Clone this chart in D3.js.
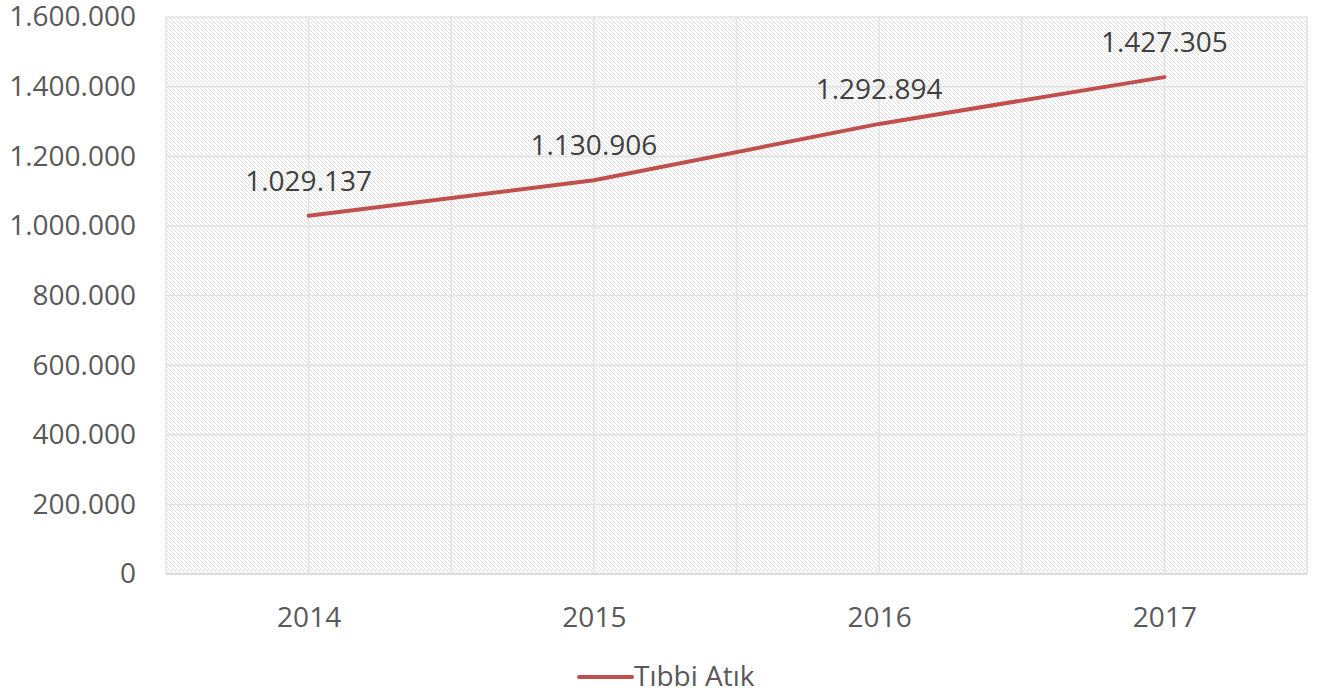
<!DOCTYPE html>
<html>
<head>
    <meta charset="utf-8">
    <title></title>
    <style>
        body { margin: 0; background: #fff; }
        text { font-family: "Open Sans", sans-serif; }
    </style>
</head>
<body>
    <script src="https://cdn.jsdelivr.net/npm/d3@7/dist/d3.min.js"></script>
    <script>
        var years = ["2014", "2015", "2016", "2017"];
        var values = [1029137, 1130906, 1292894, 1427305];
        var yTicks = [0, 200000, 400000, 600000, 800000, 1000000, 1200000, 1400000, 1600000];
        var seriesName = "Tıbbi Atık";

        var width = 1319,
            height = 693;
        var pLeft = 166, pRight = 1307, pTop = 17, pBottom = 574;
        var fontSize = "28px";

        var svg = d3.select("body").append("svg")
            .attr("width", width)
            .attr("height", height);

        // diagonal hatch fill
        var pat = svg.append("defs").append("pattern")
            .attr("id", "hatch")
            .attr("patternUnits", "userSpaceOnUse")
            .attr("width", 4)
            .attr("height", 4);
        pat.append("path")
            .attr("d", "M0,0L4,4M-1,3L1,5M3,-1L5,1")
            .attr("stroke", "#dcdcdc")
            .attr("stroke-width", 1);

        var x = d3.scalePoint().domain(years).range([pLeft, pRight]).padding(0.5);
        var band = (pRight - pLeft) / years.length;
        var y = d3.scaleLinear().domain([0, 1600000]).range([pBottom, pTop]);

        svg.append("rect")
            .attr("x", pLeft).attr("y", pTop)
            .attr("width", pRight - pLeft).attr("height", pBottom - pTop)
            .attr("fill", "url(#hatch)");

        // horizontal grid
        svg.append("g").selectAll("line")
            .data(yTicks)
            .enter().append("line")
            .attr("x1", pLeft).attr("x2", pRight)
            .attr("y1", function(d) { return y(d); })
            .attr("y2", function(d) { return y(d); })
            .attr("stroke", "#e2e2e2")
            .attr("stroke-width", 1.5);

        // vertical grid at category centres and boundaries
        var vlines = [];
        years.forEach(function(yr, i) {
            vlines.push(pLeft + i * band);
            vlines.push(x(yr));
        });
        vlines.push(pRight);
        svg.append("g").selectAll("line")
            .data(vlines)
            .enter().append("line")
            .attr("x1", function(d) { return d; })
            .attr("x2", function(d) { return d; })
            .attr("y1", pTop).attr("y2", pBottom)
            .attr("stroke", "#e2e2e2")
            .attr("stroke-width", 1.5);

        var fmt = function(d) { return d3.format(",")(d).replace(/,/g, "."); };

        // y axis labels
        var yAxis = d3.axisLeft(y).tickValues(yTicks).tickSize(0).tickPadding(0).tickFormat(fmt);
        var gy = svg.append("g").attr("transform", "translate(136,0)").call(yAxis);
        gy.select(".domain").remove();
        gy.selectAll("text")
            .attr("fill", "#595959")
            .style("font-size", fontSize)
            .style("font-family", "'Open Sans', sans-serif");

        // x axis labels
        var xAxis = d3.axisBottom(x).tickSize(0).tickPadding(0);
        var gx = svg.append("g").attr("transform", "translate(0," + (pBottom + 33) + ")").call(xAxis);
        gx.select(".domain").remove();
        gx.selectAll("text")
            .attr("fill", "#595959")
            .style("font-size", fontSize)
            .style("font-family", "'Open Sans', sans-serif");

        // bottom axis line
        svg.append("line")
            .attr("x1", pLeft).attr("x2", pRight)
            .attr("y1", pBottom).attr("y2", pBottom)
            .attr("stroke", "#d9d9d9")
            .attr("stroke-width", 1.5);

        var line = d3.line()
            .x(function(d, i) { return x(years[i]); })
            .y(function(d) { return y(d); });

        svg.append("path")
            .datum(values)
            .attr("d", line)
            .attr("fill", "none")
            .attr("stroke", "#c0504d")
            .attr("stroke-width", 4)
            .attr("stroke-linecap", "round");

        svg.append("g").selectAll("text")
            .data(values)
            .enter().append("text")
            .attr("x", function(d, i) { return x(years[i]); })
            .attr("y", function(d) { return y(d) - 25; })
            .attr("text-anchor", "middle")
            .attr("fill", "#404040")
            .style("font-size", fontSize)
            .text(fmt);

        // legend
        var lg = svg.append("g");
        lg.append("line")
            .attr("x1", 579).attr("x2", 632)
            .attr("y1", 677).attr("y2", 677)
            .attr("stroke", "#c0504d")
            .attr("stroke-width", 4)
            .attr("stroke-linecap", "round");
        lg.append("text")
            .attr("x", 634).attr("y", 686)
            .attr("fill", "#595959")
            .style("font-size", fontSize)
            .text(seriesName);
    </script>
</body>
</html>
